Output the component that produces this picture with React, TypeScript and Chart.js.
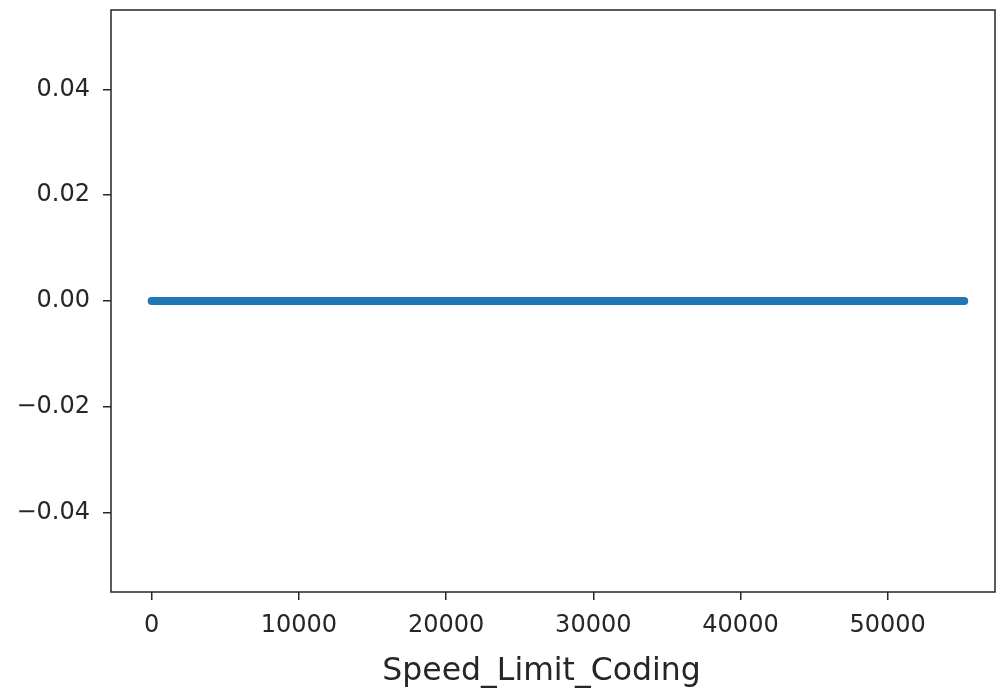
import React, { useEffect, useRef } from "react";
import { Chart, registerables } from "chart.js";

Chart.register(...registerables);

const xValues = [0, 55200];
const yValues = [0, 0];
const xTicks = [0, 10000, 20000, 30000, 40000, 50000];
const yTicks = [-0.04, -0.02, 0, 0.02, 0.04];
const xLabel = "Speed_Limit_Coding";

const FONT = "'DejaVu Sans', sans-serif";
const INK = "#262626";

const framePlugin = {
  id: "frame",
  afterDraw(chart: any) {
    const { ctx, chartArea } = chart;
    ctx.save();
    ctx.strokeStyle = INK;
    ctx.lineWidth = 1.5;
    ctx.strokeRect(chartArea.left, chartArea.top, chartArea.right - chartArea.left, chartArea.bottom - chartArea.top);
    ctx.fillStyle = INK;
    ctx.font = "31.5px " + FONT;
    ctx.textAlign = "center";
    ctx.textBaseline = "alphabetic";
    ctx.fillText(xLabel, 541.5, 680);
    ctx.restore();
  },
};

export default function App() {
  const ref = useRef<HTMLCanvasElement | null>(null);
  useEffect(() => {
    document.body.style.margin = "0";
    const canvas = ref.current!;
    const chart = new Chart(canvas, {
      type: "scatter",
      data: {
        datasets: [
          {
            data: xValues.map((x, i) => ({ x, y: yValues[i] })),
            showLine: true,
            borderColor: "#1f77b4",
            borderWidth: 8,
            backgroundColor: "#1f77b4",
            pointRadius: 4,
            pointBorderWidth: 0,
            pointBackgroundColor: "#1f77b4",
          },
        ],
      },
      options: {
        responsive: false,
        animation: false,
        events: [],
        layout: { autoPadding: false, padding: { top: 10, right: 1, left: 0, bottom: 0 } },
        plugins: { legend: { display: false }, tooltip: { enabled: false } },
        scales: {
          x: {
            type: "linear",
            min: -2765,
            max: 57290,
            afterBuildTicks: (scale: any) => {
              scale.ticks = xTicks.map((v) => ({ value: v }));
            },
            afterFit: (scale: any) => {
              scale.height = 102;
              scale.paddingLeft = 0;
              scale.paddingRight = 0;
            },
            border: { display: false },
            grid: { drawOnChartArea: false, tickLength: 8, color: INK, lineWidth: 1.5 },
            ticks: {
              color: INK,
              font: { family: FONT, size: 24 },
              padding: 11,
              maxRotation: 0,
              autoSkip: false,
              callback: (v: any) => String(v),
            },
            title: { display: false },
          },
          y: {
            type: "linear",
            min: -0.055,
            max: 0.055,
            afterBuildTicks: (scale: any) => {
              scale.ticks = yTicks.map((v) => ({ value: v }));
            },
            afterFit: (scale: any) => {
              scale.width = 111;
              scale.paddingTop = 0;
              scale.paddingBottom = 0;
            },
            border: { display: false },
            grid: { drawOnChartArea: false, tickLength: 8, color: INK, lineWidth: 1.5 },
            ticks: {
              color: INK,
              font: { family: FONT, size: 24 },
              padding: 13,
              autoSkip: false,
              callback: (v: any) => {
                const n = Number(v);
                if (Math.abs(n) < 1e-12) return "0.00";
                return n < 0 ? "\u2212" + Math.abs(n).toFixed(2) : n.toFixed(2);
              },
            },
          },
        },
      },
      plugins: [framePlugin],
    });
    return () => chart.destroy();
  }, []);
  return (
    <div style={{ position: "relative", width: 996, height: 694, background: "#fff" }}>
      <canvas ref={ref} width={996} height={694} style={{ display: "block" }} />
    </div>
  );
}
